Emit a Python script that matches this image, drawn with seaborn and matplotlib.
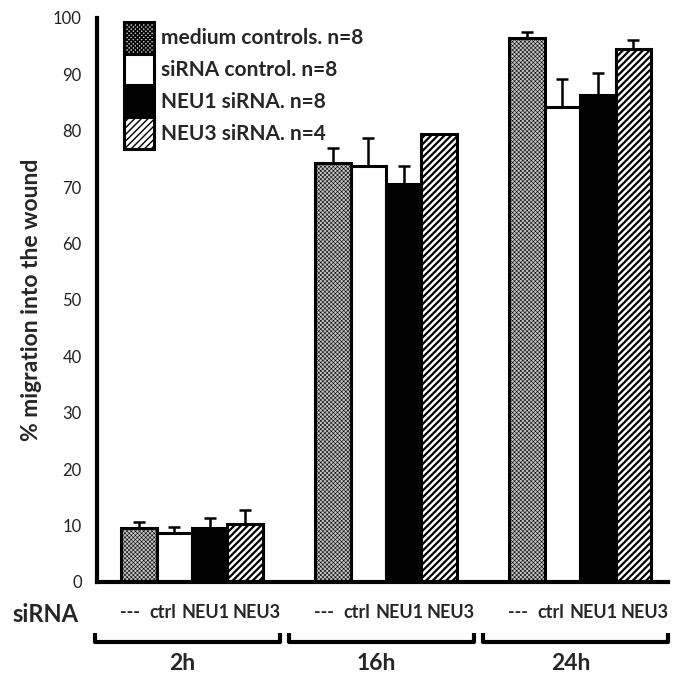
import numpy as np
import pandas as pd
import matplotlib
matplotlib.use("Agg")
import matplotlib.pyplot as plt
import seaborn as sns

# data
times = ["2h", "16h", "24h"]
conditions = ["medium controls. n=8", "siRNA control. n=8",
              "NEU1 siRNA. n=8", "NEU3 siRNA. n=4"]
short_labels = ["---", "ctrl", "NEU1", "NEU3"]

medium_vals = [9.6, 74.3, 96.4]
ctrl_vals = [8.6, 73.8, 84.3]
neu1_vals = [9.6, 70.5, 86.3]
neu3_vals = [10.2, 79.4, 94.5]

medium_err = [1.1, 2.6, 1.1]
ctrl_err = [1.2, 5.0, 4.9]
neu1_err = [1.7, 3.2, 3.9]
neu3_err = [2.6, 0.0, 1.6]

faces = ["#c4c4c4", "white", "black", "white"]
hatches = ["xxxxxxxx", "", "", "/////"]

sns.set_style("white")
plt.rcParams['font.family'] = ['Lato', 'DejaVu Sans']

all_vals = [medium_vals, ctrl_vals, neu1_vals, neu3_vals]
all_errs = [medium_err, ctrl_err, neu1_err, neu3_err]
rows = []
for cond, vals in zip(conditions, all_vals):
    for t, v in zip(times, vals):
        rows.append({"time": t, "condition": cond, "value": v})
df = pd.DataFrame(rows)

fig = plt.figure(figsize=(6.74, 6.73), dpi=100)
ax = fig.add_axes([97/674, 1-582/673, (668-97)/674, (582-18)/673])

sns.barplot(data=df, x="time", y="value", hue="condition", order=times,
            hue_order=conditions, palette=faces, width=0.73, errorbar=None,
            edgecolor="black", linewidth=2.2, saturation=1, legend=False, ax=ax)

bar_containers = list(ax.containers)
for i, cont in enumerate(bar_containers):
    for p in cont:
        p.set_hatch(hatches[i])
        if hasattr(p, "set_hatch_linewidth"):
            p.set_hatch_linewidth(0.4 if i == 0 else 1.6)
    xs = [p.get_x() + p.get_width() / 2 for p in cont]
    ax.errorbar(xs, all_vals[i], yerr=[np.zeros(3), all_errs[i]], fmt="none",
                ecolor="black", elinewidth=1.8, capsize=4, capthick=1.8, zorder=5)

leg = ax.legend(bar_containers, conditions, loc="upper left",
                bbox_to_anchor=(0.029, 1.012), frameon=False, borderpad=0,
                handlelength=1.45, handleheight=1.98, labelspacing=0,
                handletextpad=0.35, prop={"weight": "bold", "size": 15})

# y axis
ax.set_ylim(0, 100)
ax.set_yticks(np.arange(0, 101, 10))
ax.set_xlim(-0.49, 2.453)
ax.set_ylabel("% migration into the wound", fontsize=16.5, fontweight="bold", labelpad=8)
ax.set_xlabel("")
ax.tick_params(axis="y", direction="out", length=6, width=2, labelsize=12,
               pad=5, labelcolor="#222222")
for s in ["top", "right"]:
    ax.spines[s].set_visible(False)
for s in ["left", "bottom"]:
    ax.spines[s].set_linewidth(3)
    ax.spines[s].set_color("black")

# siRNA label row (set slightly apart from the bar centres, as in the figure)
label_offsets = [-0.32, -0.15, 0.067, 0.33]
tick_pos = []
tick_lab = []
for g in range(3):
    for i in range(4):
        tick_pos.append(g + label_offsets[i])
        tick_lab.append(short_labels[i])
ax.set_xticks(tick_pos)
ax.set_xticklabels(tick_lab, fontweight="bold", fontsize=13)
ax.tick_params(axis="x", length=0, pad=16)

fig.text(45/674, 1-615/673, "siRNA", fontsize=17, fontweight="bold",
         ha="center", va="center")

# brackets for time points
trans = ax.get_xaxis_transform()
y_line = -0.106
y_end = -0.091
for g, t in enumerate(times):
    x0 = g - 0.5
    x1 = g + 0.455
    ax.plot([x0, x0, x1, x1], [y_end, y_line, y_line, y_end], color="black",
            lw=3, transform=trans, clip_on=False, solid_capstyle="butt")
    ax.text(g - 0.05, -0.145, t, transform=trans, ha="center", va="center",
            fontsize=16.5, fontweight="bold")

fig.savefig("out.png", dpi=100)
